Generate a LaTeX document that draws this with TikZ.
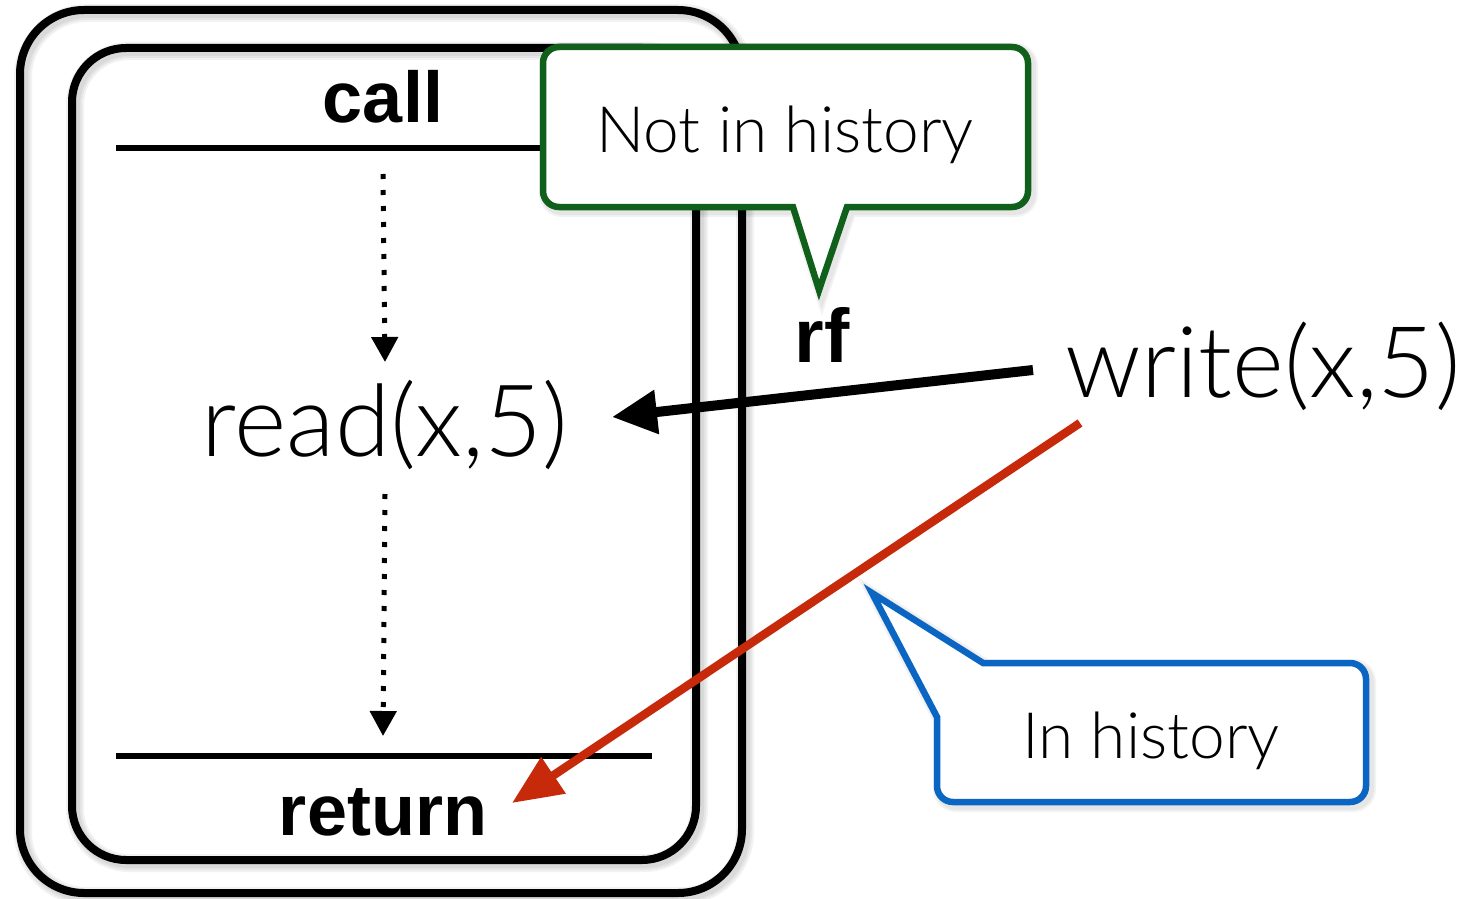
\documentclass[tikz,border=0pt]{standalone}
\usepackage{fontspec}
\setmainfont{Liberation Sans}
\newfontfamily\lightfont{Lato Light}
\usetikzlibrary{arrows.meta}

\definecolor{calloutgreen}{HTML}{10601C}
\definecolor{calloutblue}{HTML}{0A66C2}
\definecolor{rfred}{HTML}{C62A0A}

\begin{document}
\begin{tikzpicture}[x=1pt,y=-1pt,
  boxline/.style={draw=black, line width=8pt, rounded corners=#1},
  boxshade/.style={draw=black, opacity=0.05, rounded corners=#1},
  boldlabel/.style={font=\bfseries\fontsize{#1}{#1}\selectfont, inner sep=0pt, anchor=base},
  lightlabel/.style={font=\lightfont\fontsize{#1}{#1}\selectfont, inner sep=0pt, anchor=base},
  sepline/.style={line width=5.5pt},
  dotarrow/.style={line width=5pt, dash pattern=on 5pt off 11pt,
    -{Triangle[length=25pt,width=26pt]}},
  rfarrow/.style={line width=10pt, -{Triangle[length=45pt,width=42pt]}},
  hbarrow/.style={line width=8.5pt, draw=rfred, -{Triangle[length=50pt,width=42pt]}},
  greenpath/.style={insert path={(785,47) [rounded corners=16] -- (1028,47) -- (1028,207)
    [sharp corners] -- (847,207) -- (819,290) -- (793,207)
    [rounded corners=16] -- (543,207) -- (543,47) -- cycle}},
  bluepath/.style={insert path={(1150,663) [rounded corners=16] -- (1366,663) -- (1366,802)
    -- (937,802) [sharp corners] -- (937,717) -- (872,593) -- (983,663) -- cycle}},
]
\useasboundingbox (0,0) rectangle (1469,899);

% outer frame with a soft stroke shadow
\fill[white, rounded corners=64] (20,10) rectangle (742,893);
\foreach \w in {18,14,10}
  \draw[boxshade=64, line width=\w pt] (23,13) rectangle (745,896);
\draw[boxline=64] (20,10) rectangle (742,893);

% inner frame
\fill[white, rounded corners=54] (72,48) rectangle (696,860);
\foreach \w in {18,14,10}
  \draw[boxshade=54, line width=\w pt] (75,51) rectangle (699,863);
\draw[boxline=54] (72,48) rectangle (696,860);

% call / return separators
\draw[sepline] (116,148) -- (652,148);
\draw[sepline] (116,756) -- (652,756);

% labels
\node[boldlabel=72] (call) at (383,122) {call};
\node[boldlabel=72] (ret) at (383,835) {return};
\node[lightlabel=100] (read) at (385,456) {read(x,5)};
\node[lightlabel=99] (write) at (1263,397) {write(x,5)};
\node[boldlabel=76] (rf) at (822,362) {rf};

% program order inside the operation
\coordinate (d1s) at ([yshift=-52pt]call.base);
\coordinate (d1e) at ([yshift=94pt]read.base);
\coordinate (d2s) at ([yshift=-38pt]read.base);
\coordinate (d2e) at ([yshift=99pt]ret.base);
\draw[dotarrow] (d1s) -- (d1e);
\draw[dotarrow] (d2s) -- (d2e);

% reads-from edge
\coordinate (rfs) at (1033,370);
\coordinate (rft) at (612,417);
\draw[rfarrow] (rfs) -- (rft);

% happens-before edge
\coordinate (hbs) at (1080,423);
\coordinate (hbt) at (512,803);
\draw[hbarrow] (hbs) -- (hbt);

% callouts
\foreach \w in {14,10}
  \draw[draw=black, opacity=0.05, line width=\w pt, shift={(3,3)}, greenpath];
\filldraw[fill=white, draw=calloutgreen, line width=6.5pt, greenpath];
\node[lightlabel=64] (nih) at (785,152) {Not in history};

\foreach \w in {14,10}
  \draw[draw=black, opacity=0.05, line width=\w pt, shift={(3,3)}, bluepath];
\filldraw[fill=white, draw=calloutblue, line width=6.5pt, bluepath];
\node[lightlabel=64] (ih) at (1151,758) {In history};
\end{tikzpicture}
\end{document}
